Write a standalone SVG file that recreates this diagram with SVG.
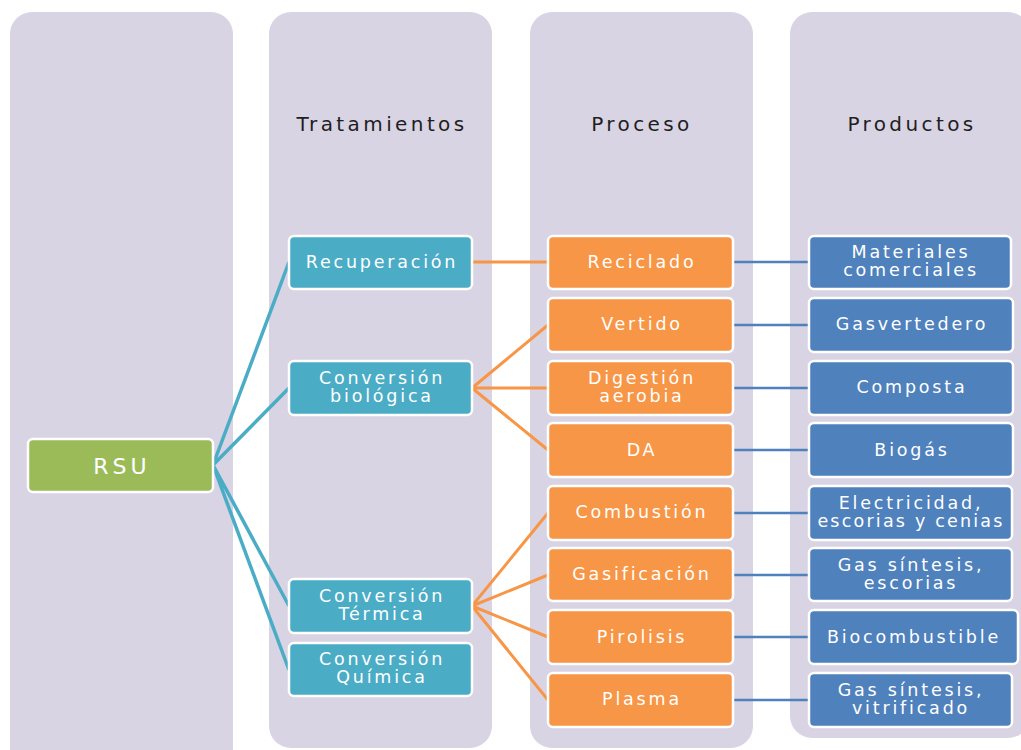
<svg xmlns="http://www.w3.org/2000/svg" width="1021" height="750" viewBox="0 0 1021 750">
<style>
.col{fill:#D9D4E3}
.hd{font-family:"DejaVu Sans","Liberation Sans",sans-serif;font-size:20px;fill:#1e1e1e;text-anchor:middle;letter-spacing:3.4px}
.n{stroke:#fff;stroke-width:2.5}
.g{fill:#9BBB59}.t{fill:#4BACC6}.o{fill:#F79646}.b{fill:#4F81BD}
.tx{font-family:"DejaVu Sans","Liberation Sans",sans-serif;font-size:17.5px;fill:#fff;text-anchor:middle;letter-spacing:2.8px}
.c1{stroke:#4BACC6;stroke-width:3.5;fill:none}
.c2{stroke:#F79646;stroke-width:3;fill:none}
.c3{stroke:#4F81BD;stroke-width:2.5;fill:none}
</style>
<rect width="1021" height="750" fill="#fff"/>
<g id="columns">
<rect class="col" x="10" y="12" width="223" height="760" rx="22"/>
<rect class="col" x="269" y="12" width="223" height="736" rx="22"/>
<rect class="col" x="530" y="12" width="223" height="736" rx="22"/>
<rect class="col" x="790" y="12" width="240" height="726" rx="22"/>
<text class="hd" x="382" y="131">Tratamientos</text>
<text class="hd" x="642" y="131">Proceso</text>
<text class="hd" x="912" y="131">Productos</text>
</g>
<g id="connectors">
<path class="c1" d="M213 465L289 262M213 465L289 388M213 465L289 606M213 465L289 670"/>
<path class="c2" d="M472 262H548M472 388L548 325M472 388H548M472 388L548 450M472 606L548 513M472 606L548 575M472 606L548 637M472 606L548 700"/>
<path class="c3" d="M733 262H809M733 325H809M733 388H809M733 450H809M733 513H809M733 575H809M733 637H809M733 700H809"/>
</g>
<g id="rsu"><rect class="n g" x="28" y="439" width="185" height="53" rx="5"/><text class="tx" x="122" y="474" style="font-size:22px;letter-spacing:4px">RSU</text></g>
<g id="recuperacion"><rect class="n t" x="289" y="236" width="183" height="53" rx="5"/><text class="tx" x="382" y="268">Recuperación</text></g>
<g id="conv-bio"><rect class="n t" x="289" y="361" width="183" height="54" rx="5"/><text class="tx" x="382" y="384">Conversión</text><text class="tx" x="382" y="402">biológica</text></g>
<g id="conv-term"><rect class="n t" x="289" y="579" width="183" height="54" rx="5"/><text class="tx" x="382" y="602">Conversión</text><text class="tx" x="382" y="620">Térmica</text></g>
<g id="conv-quim"><rect class="n t" x="289" y="643" width="183" height="53" rx="5"/><text class="tx" x="382" y="665">Conversión</text><text class="tx" x="382" y="683">Química</text></g>
<g id="reciclado"><rect class="n o" x="548" y="236" width="185" height="53" rx="5"/><text class="tx" x="642" y="268">Reciclado</text></g>
<g id="vertido"><rect class="n o" x="548" y="298" width="185" height="54" rx="5"/><text class="tx" x="642" y="330">Vertido</text></g>
<g id="digestion"><rect class="n o" x="548" y="361" width="185" height="54" rx="5"/><text class="tx" x="642" y="384">Digestión</text><text class="tx" x="642" y="402">aerobia</text></g>
<g id="da"><rect class="n o" x="548" y="423" width="185" height="54" rx="5"/><text class="tx" x="642" y="456">DA</text></g>
<g id="combustion"><rect class="n o" x="548" y="486" width="185" height="54" rx="5"/><text class="tx" x="642" y="518">Combustión</text></g>
<g id="gasificacion"><rect class="n o" x="548" y="548" width="185" height="53" rx="5"/><text class="tx" x="642" y="580">Gasificación</text></g>
<g id="pirolisis"><rect class="n o" x="548" y="610" width="185" height="54" rx="5"/><text class="tx" x="642" y="643">Pirolisis</text></g>
<g id="plasma"><rect class="n o" x="548" y="673" width="185" height="54" rx="5"/><text class="tx" x="642" y="705">Plasma</text></g>
<g id="materiales"><rect class="n b" x="809" y="236" width="202" height="53" rx="5"/><text class="tx" x="911" y="258">Materiales</text><text class="tx" x="911" y="276">comerciales</text></g>
<g id="gasvertedero"><rect class="n b" x="809" y="298" width="204" height="54" rx="5"/><text class="tx" x="912" y="330">Gasvertedero</text></g>
<g id="composta"><rect class="n b" x="809" y="361" width="204" height="54" rx="5"/><text class="tx" x="912" y="393">Composta</text></g>
<g id="biogas"><rect class="n b" x="809" y="423" width="204" height="54" rx="5"/><text class="tx" x="912" y="456">Biogás</text></g>
<g id="electricidad"><rect class="n b" x="809" y="486" width="203" height="54" rx="5"/><text class="tx" x="911" y="509">Electricidad,</text><text class="tx" x="911" y="527" style="letter-spacing:2.2px">escorias y cenias</text></g>
<g id="gas-escorias"><rect class="n b" x="809" y="548" width="203" height="53" rx="5"/><text class="tx" x="911" y="571">Gas síntesis,</text><text class="tx" x="911" y="589">escorias</text></g>
<g id="biocombustible"><rect class="n b" x="809" y="610" width="209" height="54" rx="5"/><text class="tx" x="914" y="643">Biocombustible</text></g>
<g id="gas-vitrificado"><rect class="n b" x="809" y="673" width="203" height="54" rx="5"/><text class="tx" x="911" y="696">Gas síntesis,</text><text class="tx" x="911" y="714">vitrificado</text></g>
</svg>
